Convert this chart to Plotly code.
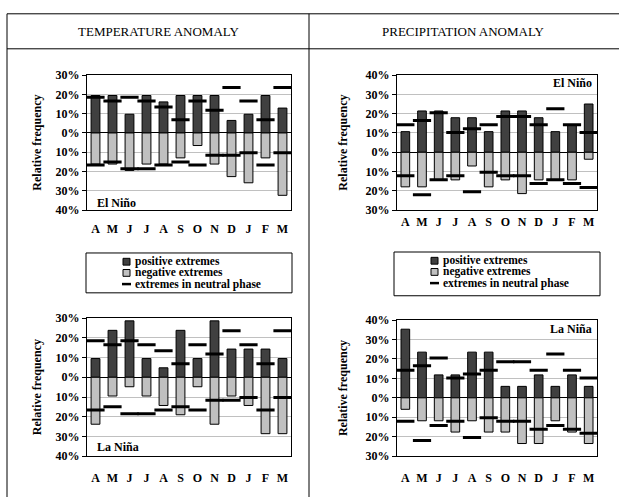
import plotly.graph_objects as go

W, H = 619, 504
months = ["A", "M", "J", "J", "A", "S", "O", "N", "D", "J", "F", "M"]

# Temperature anomaly (relative frequency, %)
temp_nino_pos = [19.4, 19.4, 9.7, 19.4, 16.1, 19.4, 19.4, 19.4, 6.5, 9.7, 19.4, 12.9]
temp_nino_neg = [-16.1, -16.1, -19.4, -16.1, -16.1, -12.9, -6.5, -16.1, -22.6, -25.8, -12.9, -32.3]
temp_nina_pos = [9.5, 23.8, 28.6, 9.5, 4.8, 23.8, 9.5, 28.6, 14.3, 14.3, 14.3, 9.5]
temp_nina_neg = [-23.8, -9.5, -4.8, -9.5, -14.3, -19.0, -4.8, -23.8, -9.5, -14.3, -28.6, -28.6]
temp_neutral_pos = [18.5, 16.5, 18.5, 16.5, 13.5, 6.8, 16.5, 11.8, 23.6, 16.5, 6.8, 23.6]
temp_neutral_neg = [-16.6, -15.0, -18.5, -18.5, -16.6, -15.0, -16.6, -11.6, -11.6, -10.2, -16.6, -10.2]

# Precipitation anomaly (relative frequency, %)
prec_nino_pos = [10.7, 21.4, 21.4, 17.9, 17.9, 10.7, 21.4, 21.4, 17.9, 10.7, 14.3, 25.0]
prec_nino_neg = [-17.9, -17.9, -14.3, -14.3, -7.1, -17.9, -14.3, -21.4, -14.3, -14.3, -14.3, -3.6]
prec_nina_pos = [35.3, 23.5, 11.8, 11.8, 23.5, 23.5, 5.9, 5.9, 11.8, 5.9, 11.8, 5.9]
prec_nina_neg = [-5.9, -11.8, -11.8, -17.6, -11.8, -17.6, -17.6, -23.5, -23.5, -11.8, -17.6, -23.5]
prec_neutral_pos = [14.2, 16.5, 20.5, 10.2, 12.2, 14.2, 18.5, 18.5, 14.2, 22.6, 14.2, 10.2]
prec_neutral_neg = [-12.1, -22.0, -14.2, -12.1, -20.4, -10.3, -12.1, -12.1, -16.2, -14.2, -16.2, -18.2]

temp_ticks = [30, 20, 10, 0, -10, -20, -30, -40]
prec_ticks = [40, 30, 20, 10, 0, -10, -20, -30]

FONT = "Liberation Serif, Times New Roman, DejaVu Serif, serif"
DARK = "#404040"
LIGHT = "#c0c0c0"


def px(x):
    return x / W


def py(y):
    return 1 - y / H


# panel pixel boxes: (x0, x1, ytop, ybottom)
panels = [
    dict(box=(87, 291, 70, 209), pos=temp_nino_pos, neg=temp_nino_neg,
         npos=temp_neutral_pos, nneg=temp_neutral_neg, ticks=temp_ticks,
         label="El Niño", lab=(95, 202, "left"), standoff=7),
    dict(box=(397, 597, 70, 209), pos=prec_nino_pos, neg=prec_nino_neg,
         npos=prec_neutral_pos, nneg=prec_neutral_neg, ticks=prec_ticks,
         label="El Niño", lab=(594, 78, "right"), standoff=0),
    dict(box=(87, 291, 320, 462), pos=temp_nina_pos, neg=temp_nina_neg,
         npos=temp_neutral_pos, nneg=temp_neutral_neg, ticks=temp_ticks,
         label="La Niña", lab=(95, 453, "left"), standoff=10),
    dict(box=(397, 597, 322, 462), pos=prec_nina_pos, neg=prec_nina_neg,
         npos=prec_neutral_pos, nneg=prec_neutral_neg, ticks=prec_ticks,
         label="La Niña", lab=(594, 331, "right"), standoff=10),
]

fig = go.Figure()
xs = list(range(12))
annotations = []
shapes = []

for i, p in enumerate(panels):
    n = "" if i == 0 else str(i + 1)
    xa, ya = "x" + n, "y" + n
    x0, x1, yt, yb = p["box"]
    fig.add_trace(go.Bar(x=xs, y=p["pos"], xaxis=xa, yaxis=ya, width=0.52,
                         marker=dict(color=DARK, line=dict(color="black", width=1)),
                         showlegend=False, name="positive extremes"))
    fig.add_trace(go.Bar(x=xs, y=p["neg"], xaxis=xa, yaxis=ya, width=0.52,
                         marker=dict(color=LIGHT, line=dict(color="black", width=1)),
                         showlegend=False, name="negative extremes"))
    for vals in (p["npos"], p["nneg"]):
        fig.add_trace(go.Scatter(x=xs, y=vals, xaxis=xa, yaxis=ya, mode="markers",
                                 marker=dict(symbol="line-ew", size=13,
                                             line=dict(color="black", width=3)),
                                 showlegend=False, name="extremes in neutral phase"))
    ticks = p["ticks"]
    fig.update_layout(**{
        "xaxis" + n: dict(domain=[px(x0), px(x1)], anchor=ya, range=[-0.5, 11.5],
                          tickvals=xs, ticktext=months, showgrid=False, zeroline=False,
                          ticks="", showline=True, mirror=True, linecolor="black", linewidth=1,
                          ticklabelstandoff=p["standoff"],
                          tickfont=dict(family=FONT, size=12, color="black", weight="bold")),
        "yaxis" + n: dict(domain=[py(yb), py(yt)], anchor=xa,
                          range=[min(ticks), max(ticks)], tickvals=ticks,
                          ticktext=[f"{abs(t)}%" for t in ticks],
                          showgrid=True, gridcolor="#c0c0c0", gridwidth=1,
                          zeroline=True, zerolinecolor="black", zerolinewidth=1,
                          showline=True, mirror=True, linecolor="black", linewidth=1,
                          ticks="outside", ticklen=4, tickcolor="black",
                          tickfont=dict(family=FONT, size=12, color="black", weight="bold")),
    })
    lx, ly, anc = p["lab"]
    annotations.append(dict(x=px(lx), y=py(ly), xref="paper", yref="paper", text=p["label"],
                            showarrow=False, xanchor=anc, yanchor="middle",
                            font=dict(family=FONT, size=12, color="black", weight="bold")))
    tx = 37 if x0 < 300 else 343
    annotations.append(dict(x=px(tx), y=py((yt + yb) / 2), xref="paper", yref="paper",
                            text="Relative frequency", textangle=-90, showarrow=False,
                            xanchor="center", yanchor="middle",
                            font=dict(family=FONT, size=12, color="black", weight="bold")))

# table lines
line = dict(color="black", width=1)
for (a, b, c, d) in [(7, 7, 619, 7), (7, 43, 619, 43), (7, 7, 7, 504), (309, 7, 309, 504)]:
    shapes.append(dict(type="line", xref="paper", yref="paper", x0=px(a), y0=py(b),
                       x1=px(c), y1=py(d), line=line))

for cx, t in [(158, "TEMPERATURE ANOMALY"), (463, "PRECIPITATION ANOMALY")]:
    annotations.append(dict(x=px(cx), y=py(25), xref="paper", yref="paper", text=t,
                            showarrow=False, xanchor="center", yanchor="middle",
                            font=dict(family=FONT, size=13, color="black")))

legend_items = ["positive extremes", "negative extremes", "extremes in neutral phase"]
for (bx0, bx1, by0, by1, mx) in [(86, 292, 253, 294, 123), (394, 600, 252, 297, 431)]:
    shapes.append(dict(type="rect", xref="paper", yref="paper", x0=px(bx0), x1=px(bx1),
                       y0=py(by1), y1=py(by0), line=dict(color="black", width=1),
                       fillcolor="rgba(0,0,0,0)"))
    yc = [by0 + 9, by0 + 20.5, by0 + 32]
    for k, (txt, yy) in enumerate(zip(legend_items, yc)):
        if k < 2:
            shapes.append(dict(type="rect", xref="paper", yref="paper",
                               x0=px(mx), x1=px(mx + 7), y0=py(yy + 3.5), y1=py(yy - 3.5),
                               fillcolor=DARK if k == 0 else LIGHT,
                               line=dict(color="black", width=1)))
        else:
            shapes.append(dict(type="line", xref="paper", yref="paper",
                               x0=px(mx - 1), x1=px(mx + 8), y0=py(yy), y1=py(yy),
                               line=dict(color="black", width=2.5)))
        annotations.append(dict(x=px(mx + 10), y=py(yy), xref="paper", yref="paper", text=txt,
                                showarrow=False, xanchor="left", yanchor="middle",
                                font=dict(family=FONT, size=11.5, color="black", weight="bold")))

fig.update_layout(width=W, height=H, margin=dict(l=0, r=0, t=0, b=0),
                  paper_bgcolor="white", plot_bgcolor="white", barmode="overlay",
                  showlegend=False, annotations=annotations, shapes=shapes)

fig.write_html("out.html", config={"displayModeBar": False},
               post_script="document.body.style.margin='0';document.body.style.padding='0';")
